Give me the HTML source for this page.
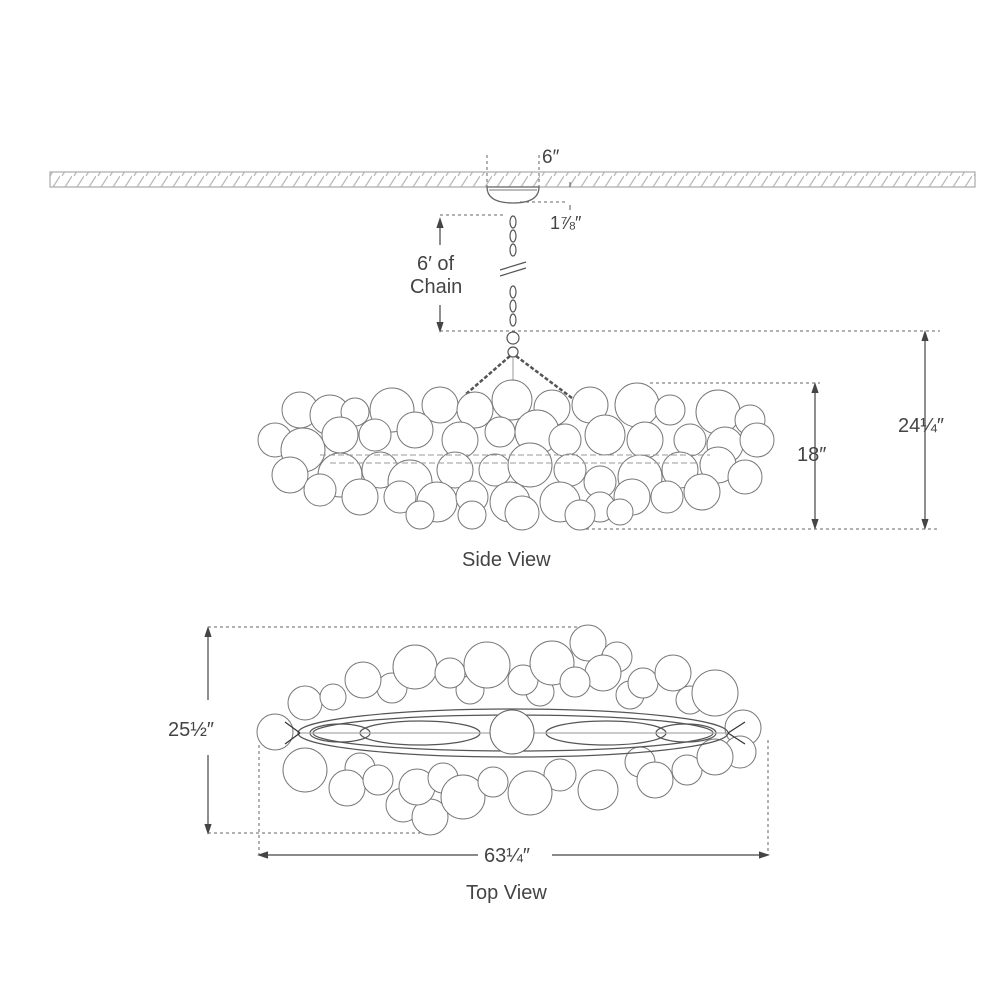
<!DOCTYPE html>
<html><head><style>
html,body{margin:0;padding:0;background:#fff;}
svg{display:block;}
text{font-family:"Liberation Sans",sans-serif;fill:#444;}
</style></head><body>
<svg width="1000" height="1000" viewBox="0 0 1000 1000" xmlns="http://www.w3.org/2000/svg">
<defs>
<pattern id="h" width="12" height="16" patternUnits="userSpaceOnUse">
<line x1="2" y1="16" x2="12" y2="0" stroke="#bbb" stroke-width="1.3"/>
</pattern>
</defs>
<rect x="50" y="172" width="925" height="15" fill="url(#h)" stroke="#aaa" stroke-width="1.2"/>
<path d="M487 187 Q487 203 513 203 Q539 203 539 187 Z" fill="#fff" stroke="#666" stroke-width="1.3"/>
<line x1="489" y1="190" x2="537" y2="190" stroke="#777"/>
<g stroke="#666" stroke-width="1" stroke-dasharray="3,3" fill="none">
<line x1="487" y1="155" x2="487" y2="187"/>
<line x1="539" y1="155" x2="539" y2="187"/>
<line x1="520" y1="202" x2="568" y2="202"/>
<line x1="440" y1="215" x2="505" y2="215"/>
<line x1="440" y1="331" x2="940" y2="331"/>
<line x1="650" y1="383" x2="820" y2="383"/>
<line x1="580" y1="529" x2="940" y2="529"/>
<line x1="208" y1="627" x2="590" y2="627"/>
<line x1="208" y1="833" x2="420" y2="833"/>
<line x1="259" y1="745" x2="259" y2="855"/>
<line x1="768" y1="740" x2="768" y2="855"/>
</g>
<text x="542" y="163" font-size="19">6″</text>
<text x="550" y="229" font-size="18">1⅞″</text>
<line x1="570" y1="182" x2="570" y2="187" stroke="#555"/>
<line x1="570" y1="205" x2="570" y2="210" stroke="#555"/>
<g stroke="#444" stroke-width="1.2">
<line x1="440" y1="222" x2="440" y2="245"/><path d="M437 228 L440 219 L443 228" fill="#444"/>
<line x1="440" y1="305" x2="440" y2="328"/><path d="M437 322 L440 331 L443 322" fill="#444"/>
<line x1="925" y1="335" x2="925" y2="525" /><path d="M922 341 L925 332 L928 341 M922 519 L925 528 L928 519" fill="#444"/>
<line x1="815" y1="387" x2="815" y2="525"/><path d="M812 393 L815 384 L818 393 M812 519 L815 528 L818 519" fill="#444"/>
<line x1="208" y1="631" x2="208" y2="700"/><line x1="208" y1="755" x2="208" y2="829"/>
<path d="M205 637 L208 628 L211 637 M205 824 L208 833 L211 824" fill="#444"/>
<line x1="262" y1="855" x2="478" y2="855"/><line x1="552" y1="855" x2="765" y2="855"/>
<path d="M268 852 L259 855 L268 858 M759 852 L768 855 L759 858" fill="#444"/>
</g>
<text x="417" y="270" font-size="20">6′ of</text>
<text x="410" y="293" font-size="20">Chain</text>
<text x="898" y="432" font-size="20">24¼″</text>
<text x="797" y="461" font-size="20">18″</text>
<text x="168" y="736" font-size="20">25½″</text>
<text x="484" y="862" font-size="20">63¼″</text>
<text x="462" y="566" font-size="20">Side View</text>
<text x="466" y="899" font-size="20">Top View</text>
<g stroke="#555" stroke-width="1.2" fill="none">
<ellipse cx="513" cy="222" rx="3" ry="6"/><ellipse cx="513" cy="236" rx="3" ry="6"/><ellipse cx="513" cy="250" rx="3" ry="6"/>
<ellipse cx="513" cy="292" rx="3" ry="6"/><ellipse cx="513" cy="306" rx="3" ry="6"/><ellipse cx="513" cy="320" rx="3" ry="6"/>
<line x1="500" y1="270" x2="526" y2="262"/><line x1="500" y1="276" x2="526" y2="268"/>
<circle cx="513" cy="338" r="6"/><circle cx="513" cy="352" r="5"/>
<path d="M510 356 L465 395 M516 356 L588 410" stroke-width="2.5" stroke-dasharray="4,2"/>
<line x1="513" y1="358" x2="513" y2="420" stroke="#aaa"/>
</g>
<g stroke="#777" stroke-width="1" fill="#fff">
<circle cx="300" cy="410" r="18"/><circle cx="330" cy="415" r="20"/><circle cx="355" cy="412" r="14"/><circle cx="392" cy="410" r="22"/><circle cx="440" cy="405" r="18"/><circle cx="475" cy="410" r="18"/><circle cx="512" cy="400" r="20"/><circle cx="552" cy="408" r="18"/><circle cx="590" cy="405" r="18"/><circle cx="637" cy="405" r="22"/><circle cx="670" cy="410" r="15"/><circle cx="718" cy="412" r="22"/><circle cx="750" cy="420" r="15"/>
<circle cx="275" cy="440" r="17"/><circle cx="303" cy="450" r="22"/><circle cx="340" cy="435" r="18"/><circle cx="375" cy="435" r="16"/><circle cx="415" cy="430" r="18"/><circle cx="460" cy="440" r="18"/><circle cx="500" cy="432" r="15"/><circle cx="537" cy="432" r="22"/><circle cx="565" cy="440" r="16"/><circle cx="605" cy="435" r="20"/><circle cx="645" cy="440" r="18"/><circle cx="690" cy="440" r="16"/><circle cx="725" cy="445" r="18"/><circle cx="757" cy="440" r="17"/>
<circle cx="290" cy="475" r="18"/><circle cx="340" cy="475" r="22"/><circle cx="380" cy="470" r="18"/><circle cx="410" cy="482" r="22"/><circle cx="455" cy="470" r="18"/><circle cx="495" cy="470" r="16"/><circle cx="530" cy="465" r="22"/><circle cx="570" cy="470" r="16"/><circle cx="600" cy="482" r="16"/><circle cx="640" cy="477" r="22"/><circle cx="680" cy="470" r="18"/><circle cx="718" cy="465" r="18"/><circle cx="745" cy="477" r="17"/>
<circle cx="320" cy="490" r="16"/><circle cx="360" cy="497" r="18"/><circle cx="400" cy="497" r="16"/><circle cx="437" cy="502" r="20"/><circle cx="472" cy="497" r="16"/><circle cx="510" cy="502" r="20"/><circle cx="560" cy="502" r="20"/><circle cx="600" cy="507" r="15"/><circle cx="632" cy="497" r="18"/><circle cx="667" cy="497" r="16"/><circle cx="702" cy="492" r="18"/>
<circle cx="420" cy="515" r="14"/><circle cx="472" cy="515" r="14"/><circle cx="522" cy="513" r="17"/><circle cx="580" cy="515" r="15"/><circle cx="620" cy="512" r="13"/>
</g>
<g stroke="#999" stroke-width="1" stroke-dasharray="6,3" fill="none">
<line x1="320" y1="455" x2="710" y2="455"/><line x1="330" y1="463" x2="700" y2="463"/>
</g>
<!-- top view -->
<g stroke="#777" stroke-width="1" fill="#fff">
<circle cx="392" cy="688" r="15"/><circle cx="470" cy="690" r="14"/><circle cx="540" cy="692" r="14"/><circle cx="630" cy="695" r="14"/><circle cx="690" cy="700" r="14"/>
<circle cx="305" cy="703" r="17"/><circle cx="333" cy="697" r="13"/><circle cx="363" cy="680" r="18"/><circle cx="415" cy="667" r="22"/><circle cx="450" cy="673" r="15"/><circle cx="487" cy="665" r="23"/><circle cx="523" cy="680" r="15"/><circle cx="552" cy="663" r="22"/><circle cx="588" cy="643" r="18"/><circle cx="617" cy="657" r="15"/><circle cx="603" cy="673" r="18"/><circle cx="575" cy="682" r="15"/><circle cx="643" cy="683" r="15"/><circle cx="673" cy="673" r="18"/><circle cx="715" cy="693" r="23"/>
<circle cx="275" cy="732" r="18"/><circle cx="743" cy="728" r="18"/>
<circle cx="360" cy="768" r="15"/><circle cx="560" cy="775" r="16"/><circle cx="640" cy="762" r="15"/><circle cx="740" cy="752" r="16"/>
<circle cx="305" cy="770" r="22"/><circle cx="347" cy="788" r="18"/><circle cx="378" cy="780" r="15"/><circle cx="403" cy="805" r="17"/><circle cx="430" cy="817" r="18"/><circle cx="417" cy="787" r="18"/><circle cx="443" cy="778" r="15"/><circle cx="463" cy="797" r="22"/><circle cx="493" cy="782" r="15"/><circle cx="530" cy="793" r="22"/><circle cx="598" cy="790" r="20"/><circle cx="655" cy="780" r="18"/><circle cx="687" cy="770" r="15"/><circle cx="715" cy="757" r="18"/>
</g>
<g stroke="#555" stroke-width="1.2" fill="none">
<ellipse cx="513" cy="733" rx="215" ry="24"/><ellipse cx="513" cy="733" rx="200" ry="18"/>
<ellipse cx="420" cy="733" rx="60" ry="12"/><ellipse cx="606" cy="733" rx="60" ry="12"/>
<ellipse cx="340" cy="733" rx="30" ry="9"/><ellipse cx="686" cy="733" rx="30" ry="9"/>
<line x1="300" y1="733" x2="728" y2="733" stroke="#aaa"/>
<path d="M300 733 L285 722 M300 733 L285 744 M728 733 L745 722 M728 733 L745 744" stroke="#333"/>
</g>
<circle cx="512" cy="732" r="22" fill="#fff" stroke="#666"/>
</svg>
</body></html>
